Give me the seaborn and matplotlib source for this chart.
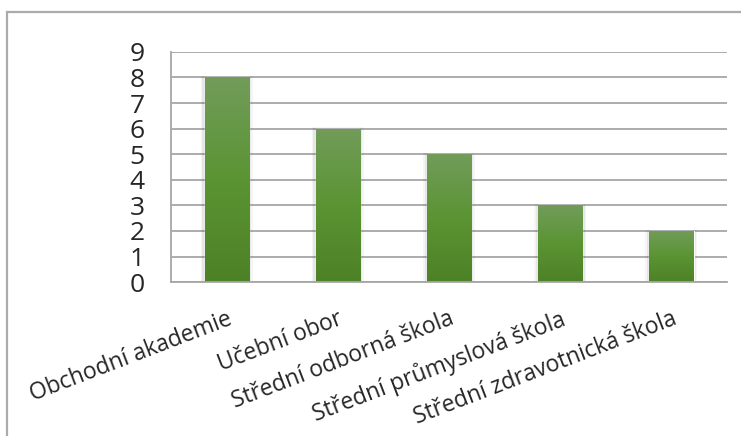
import numpy as np
import pandas as pd
import matplotlib
matplotlib.use("Agg")
import matplotlib.pyplot as plt
import seaborn as sns
from matplotlib.patches import Rectangle
from matplotlib.colors import LinearSegmentedColormap

# Data
schools = ["Obchodní akademie", "Učební obor", "Střední odborná škola",
           "Střední průmyslová škola", "Střední zdravotnická škola"]
counts = [8, 6, 5, 3, 2]
yticks = list(range(0, 10))

sns.set_style("white")
plt.rcParams["font.family"] = ["Open Sans", "DejaVu Sans"]

df = pd.DataFrame({"school": schools, "count": counts})

fig = plt.figure(figsize=(7.41, 4.36), dpi=100)
ax = fig.add_axes([0.231, 0.353, 0.75, 0.528])

sns.barplot(data=df, x="school", y="count", color="#5a8f35", width=0.4,
            ax=ax, saturation=1)

# gradient fill on each bar
cmap = LinearSegmentedColormap.from_list("g", ["#4d8126", "#5b9433", "#719c5a"])
grad = np.linspace(0, 1, 256).reshape(-1, 1)
for bar in list(ax.patches):
    x0, y0 = bar.get_x(), bar.get_y()
    w, h = bar.get_width(), bar.get_height()
    # soft shadow around the bar
    for k, a in [(0.035, 0.04), (0.02, 0.06)]:
        sh = Rectangle((x0 - k, y0), w + 2 * k, h + k * 1.5, facecolor="#000000",
                       alpha=a, edgecolor="none", zorder=1.5)
        ax.add_patch(sh)
    im = ax.imshow(grad, extent=[x0, x0 + w, y0, y0 + h], origin="lower",
                   cmap=cmap, aspect="auto", zorder=2)
    im.set_clip_path(bar)
    bar.set_zorder(2)

ax.set_xlim(-0.5, len(schools) - 0.5)
ax.set_ylim(0, 9)
ax.set_yticks(yticks)
ax.set_yticklabels([str(t) for t in yticks], fontsize=19)
ax.yaxis.grid(True, color="#a6a6a6", linewidth=1.3)
ax.set_axisbelow(True)

# category ticks at boundaries, labels at centers
ax.set_xticks(np.arange(len(schools)))
ax.set_xticklabels(schools, rotation=21, ha="right", rotation_mode="anchor",
                   fontsize=16.5)
ax.set_xticks(np.arange(-0.5, len(schools)), minor=True)
ax.tick_params(axis="x", which="major", length=0, pad=18)
ax.tick_params(axis="x", which="minor", length=8, color="#a6a6a6", width=1.3)
ax.tick_params(axis="y", length=8, color="#a6a6a6", width=1.3, pad=11)

for s in ["top", "right"]:
    ax.spines[s].set_visible(False)
for s in ["left", "bottom"]:
    ax.spines[s].set_color("#a6a6a6")
    ax.spines[s].set_linewidth(1.3)

ax.set_xlabel("")
ax.set_ylabel("")

# outer chart border (only left and top edges visible in the crop)
fig.patches.append(Rectangle((0.0094, -0.05), 1.1, 0.0225 + 1.0, transform=fig.transFigure,
                             fill=False, edgecolor="#ababab", linewidth=1.6))

fig.savefig("out.png", dpi=100)
